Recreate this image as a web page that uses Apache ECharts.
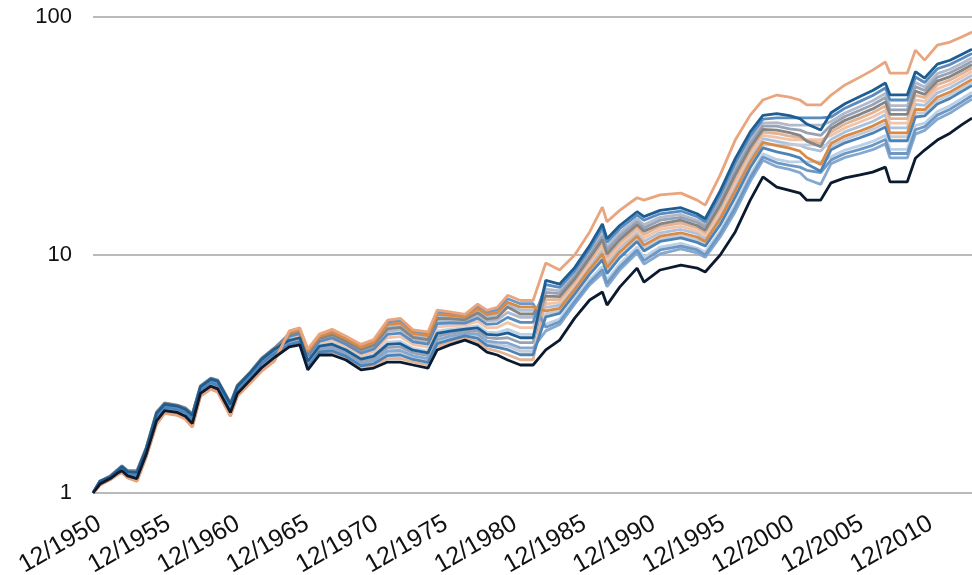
<!DOCTYPE html>
<html>
<head>
<meta charset="utf-8">
<script src="https://cdn.jsdelivr.net/npm/echarts@6/dist/echarts.min.js"></script>
<style>
  html, body { margin: 0; padding: 0; background: #ffffff; }
  #chart { width: 972px; height: 575px; }
</style>
</head>
<body>
<div id="chart"></div>
<script>
// Sample dates, in months after 12/1950
const months = [0, 6, 15, 21, 25, 30, 38, 46, 55, 62, 73, 80, 86, 93, 102, 108, 119, 125, 136, 146, 157,
  170, 179, 186, 196, 207, 219, 232, 243, 255, 266, 277, 290, 298, 309, 322, 333, 341, 350, 359, 370, 381,
  392, 404, 417, 430, 441, 445, 456, 471, 477, 491, 509, 523, 530, 543, 556, 569, 580, 592, 603, 612, 618,
  630, 639, 651, 664, 675, 686, 690, 705, 712, 720, 731, 742, 752, 761];

// Growth of 1 for each strategy
const peach = [1.00, 1.08, 1.14, 1.19, 1.22, 1.16, 1.12, 1.41, 1.94, 2.16, 2.12, 2.04, 1.89, 2.55, 2.73, 2.65, 2.10, 2.55, 2.89, 3.25, 3.58,
  4.80, 4.94, 4.02, 4.65, 4.87, 4.56, 4.21, 4.41, 5.32, 5.42, 4.85, 4.75, 5.87, 5.77, 5.63, 6.22, 5.86, 6.02, 6.77, 6.44, 6.44,
  9.25, 8.65, 10.0, 12.5, 15.9, 13.8, 15.4, 17.4, 17.0, 17.9, 18.2, 17.0, 16.2, 21.7, 30.4, 38.7, 44.8, 47.0, 46.1, 44.8, 42.7,
  42.7, 47.0, 51.8, 55.9, 59.8, 64.7, 58.1, 58.1, 72.6, 65.9, 76.2, 78.5, 82.4, 86.4];
const darkBlue = [1.00, 1.12, 1.17, 1.24, 1.29, 1.23, 1.22, 1.53, 2.16, 2.36, 2.32, 2.25, 2.12, 2.79, 3.01, 2.95, 2.36, 2.81, 3.19, 3.64, 4.02,
  4.38, 4.49, 3.58, 4.14, 4.22, 3.99, 3.65, 3.76, 4.21, 4.24, 3.98, 3.88, 4.69, 4.79, 4.88, 4.94, 4.64, 4.61, 4.71, 4.49, 4.49,
  7.82, 7.55, 8.85, 10.95, 13.5, 11.7, 13.3, 15.2, 14.5, 15.4, 15.8, 14.9, 14.2, 18.6, 25.4, 32.9, 38.6, 39.3, 38.5, 37.4, 35.5,
  33.5, 39.6, 43.2, 46.3, 49.1, 52.8, 47.1, 47.1, 58.9, 55.4, 63.4, 65.8, 69.5, 73.2];
const skyBlue = [1.00, 1.12, 1.17, 1.24, 1.28, 1.22, 1.21, 1.52, 2.14, 2.34, 2.30, 2.23, 2.10, 2.76, 2.98, 2.92, 2.33, 2.78, 3.16, 3.60, 3.97,
  4.55, 4.67, 3.76, 4.34, 4.48, 4.22, 3.87, 4.02, 4.64, 4.70, 4.32, 4.22, 5.15, 5.18, 5.17, 5.43, 5.11, 5.15, 5.47, 5.21, 5.21,
  7.51, 7.31, 8.59, 10.6, 13.0, 11.3, 12.9, 14.7, 14.0, 14.9, 15.3, 14.5, 13.8, 17.9, 24.4, 31.6, 37.2, 37.7, 37.7, 37.7, 37.7,
  37.7, 38.0, 41.4, 44.2, 46.8, 50.3, 44.8, 44.8, 56.0, 53.1, 60.6, 63.1, 66.7, 70.3];
const greyBlue = [1.00, 1.11, 1.17, 1.23, 1.27, 1.21, 1.20, 1.50, 2.11, 2.32, 2.27, 2.20, 2.07, 2.73, 2.94, 2.88, 2.30, 2.75, 3.12, 3.55, 3.91,
  4.61, 4.73, 3.81, 4.41, 4.56, 4.29, 3.95, 4.11, 4.78, 4.85, 4.43, 4.33, 5.30, 5.31, 5.27, 5.60, 5.27, 5.33, 5.74, 5.47, 5.47,
  7.19, 7.06, 8.33, 10.25, 12.4, 10.8, 12.4, 14.2, 13.4, 14.4, 14.8, 14.0, 13.4, 17.2, 23.3, 30.3, 35.8, 36.0, 35.1, 35.1, 35.1,
  35.1, 36.4, 39.5, 42.1, 44.5, 47.7, 42.4, 42.4, 53.1, 50.8, 57.8, 60.3, 63.8, 67.4];
const slate = [1.00, 1.11, 1.16, 1.22, 1.26, 1.20, 1.18, 1.48, 2.07, 2.28, 2.23, 2.16, 2.02, 2.68, 2.89, 2.82, 2.25, 2.70, 3.06, 3.47, 3.82,
  4.33, 4.43, 3.53, 4.08, 4.14, 3.92, 3.58, 3.68, 4.08, 4.11, 3.88, 3.78, 4.55, 4.68, 4.79, 4.80, 4.50, 4.45, 4.49, 4.28, 4.28,
  6.96, 6.88, 8.13, 9.99, 12.0, 10.5, 12.0, 13.8, 13.0, 14.0, 14.4, 13.7, 13.1, 16.7, 22.5, 29.3, 34.8, 34.8, 33.9, 33.5, 32.6,
  31.8, 35.2, 38.2, 40.6, 42.8, 45.9, 40.7, 40.7, 51.0, 49.1, 55.8, 58.3, 61.7, 65.2];
const grey = [1.00, 1.12, 1.18, 1.25, 1.30, 1.24, 1.24, 1.55, 2.19, 2.39, 2.34, 2.28, 2.15, 2.82, 3.04, 2.98, 2.39, 2.84, 3.22, 3.69, 4.07,
  4.64, 4.77, 3.86, 4.46, 4.62, 4.34, 4.00, 4.17, 4.89, 4.96, 4.51, 4.41, 5.41, 5.40, 5.34, 5.72, 5.38, 5.46, 6.05, 5.65, 5.65,
  6.72, 6.69, 7.93, 9.73, 11.6, 10.1, 11.6, 13.4, 12.6, 13.5, 14.0, 13.3, 12.7, 16.2, 21.7, 28.3, 33.7, 33.5, 32.7, 31.8, 30.1,
  28.5, 34.0, 36.8, 39.0, 41.1, 44.0, 39.0, 39.0, 48.8, 47.3, 53.8, 56.2, 59.6, 63.0];
const tan = [1.00, 1.09, 1.15, 1.21, 1.24, 1.18, 1.15, 1.44, 2.00, 2.21, 2.17, 2.09, 1.95, 2.61, 2.80, 2.72, 2.17, 2.61, 2.96, 3.34, 3.68,
  4.16, 4.25, 3.34, 3.86, 3.88, 3.69, 3.36, 3.42, 3.67, 3.68, 3.55, 3.45, 4.12, 4.30, 4.48, 4.33, 4.04, 3.95, 3.81, 3.63, 3.63,
  6.48, 6.51, 7.74, 9.48, 11.3, 9.81, 11.3, 13.1, 12.2, 13.2, 13.6, 13.0, 12.4, 15.7, 21.0, 27.4, 32.8, 32.4, 31.6, 31.2, 30.3,
  29.5, 32.9, 35.5, 37.6, 39.6, 42.3, 37.4, 37.4, 46.9, 45.8, 51.9, 54.3, 57.7, 61.0];
const lightPeach = [1.00, 1.09, 1.14, 1.20, 1.23, 1.17, 1.14, 1.43, 1.98, 2.20, 2.15, 2.08, 1.93, 2.59, 2.78, 2.70, 2.15, 2.59, 2.94, 3.32, 3.65,
  4.49, 4.61, 3.70, 4.27, 4.39, 4.14, 3.79, 3.93, 4.49, 4.54, 4.20, 4.10, 4.99, 5.04, 5.07, 5.26, 4.94, 4.96, 5.20, 4.95, 4.95,
  6.23, 6.33, 7.55, 9.23, 10.9, 9.51, 11.0, 12.7, 11.8, 12.8, 13.2, 12.6, 12.0, 15.2, 20.2, 26.5, 31.8, 31.2, 30.5, 30.5, 30.5,
  30.5, 31.8, 34.2, 36.2, 38.0, 40.5, 35.8, 35.8, 44.9, 44.2, 49.9, 52.3, 55.7, 59.0];
const iceBlue = [1.00, 1.12, 1.18, 1.25, 1.30, 1.24, 1.23, 1.54, 2.18, 2.38, 2.33, 2.27, 2.14, 2.81, 3.03, 2.97, 2.38, 2.83, 3.21, 3.67, 4.05,
  4.68, 4.81, 3.90, 4.51, 4.68, 4.40, 4.05, 4.23, 5.00, 5.07, 4.60, 4.50, 5.52, 5.49, 5.42, 5.84, 5.50, 5.60, 6.19, 5.85, 5.85,
  6.03, 6.15, 7.35, 8.97, 10.5, 9.18, 10.7, 12.4, 11.4, 12.4, 12.8, 12.3, 11.7, 14.7, 19.4, 25.6, 30.8, 30.0, 29.3, 28.9, 28.1,
  27.3, 30.6, 32.9, 34.7, 36.4, 38.8, 34.2, 34.2, 42.9, 42.5, 48.0, 50.4, 53.7, 56.9];
const orange = [1.00, 1.08, 1.14, 1.20, 1.22, 1.16, 1.12, 1.42, 1.96, 2.17, 2.13, 2.05, 1.90, 2.56, 2.74, 2.67, 2.12, 2.56, 2.91, 3.27, 3.60,
  4.72, 4.85, 3.94, 4.55, 4.74, 4.45, 4.10, 4.29, 5.10, 5.18, 4.68, 4.58, 5.63, 5.58, 5.49, 5.96, 5.62, 5.73, 6.33, 6.04, 6.04,
  5.82, 5.96, 7.15, 8.70, 10.1, 8.85, 10.3, 12.0, 11.0, 12.0, 12.4, 11.9, 11.4, 14.2, 18.6, 24.6, 29.7, 28.8, 28.1, 27.3, 25.7,
  24.0, 29.4, 31.6, 33.2, 34.8, 37.0, 32.6, 32.6, 40.9, 40.8, 46.0, 48.4, 51.6, 54.7];
const mist = [1.00, 1.11, 1.17, 1.23, 1.27, 1.21, 1.20, 1.50, 2.10, 2.31, 2.26, 2.19, 2.06, 2.72, 2.93, 2.86, 2.29, 2.74, 3.10, 3.53, 3.89,
  4.25, 4.34, 3.43, 3.97, 4.01, 3.80, 3.46, 3.55, 3.87, 3.89, 3.71, 3.61, 4.33, 4.48, 4.63, 4.56, 4.26, 4.19, 4.14, 3.94, 3.94,
  5.66, 5.82, 7.00, 8.51, 9.83, 8.61, 10.0, 11.7, 10.7, 11.7, 12.1, 11.6, 11.2, 13.8, 18.1, 24.0, 29.0, 29.0, 29.0, 29.0, 29.0,
  29.0, 28.6, 30.6, 32.2, 33.7, 35.8, 31.4, 31.4, 39.5, 39.6, 44.6, 47.0, 50.1, 53.2];
const midBlue = [1.00, 1.11, 1.16, 1.22, 1.26, 1.20, 1.19, 1.49, 2.09, 2.29, 2.25, 2.18, 2.04, 2.70, 2.91, 2.84, 2.27, 2.72, 3.08, 3.50, 3.86,
  4.21, 4.30, 3.39, 3.92, 3.95, 3.75, 3.42, 3.49, 3.78, 3.80, 3.64, 3.54, 4.24, 4.40, 4.57, 4.46, 4.17, 4.09, 4.00, 3.81, 3.81,
  5.50, 5.68, 6.85, 8.31, 9.55, 8.36, 9.74, 11.4, 10.4, 11.4, 11.8, 11.3, 10.9, 13.4, 17.5, 23.3, 28.2, 27.1, 26.4, 25.6, 24.1,
  22.5, 27.7, 29.6, 31.1, 32.5, 34.5, 30.2, 30.2, 38.0, 38.4, 43.1, 45.5, 48.6, 51.6];
const paleBlue = [1.00, 1.10, 1.15, 1.22, 1.25, 1.19, 1.17, 1.47, 2.05, 2.26, 2.21, 2.14, 2.00, 2.66, 2.86, 2.79, 2.22, 2.67, 3.03, 3.43, 3.78,
  4.42, 4.53, 3.62, 4.18, 4.27, 4.04, 3.70, 3.82, 4.30, 4.34, 4.05, 3.95, 4.79, 4.88, 4.94, 5.05, 4.74, 4.72, 4.87, 4.64, 4.64,
  5.13, 5.38, 6.53, 7.88, 8.95, 7.84, 9.17, 10.8, 9.77, 10.8, 11.2, 10.7, 10.3, 12.6, 16.3, 21.8, 26.6, 25.2, 24.6, 24.6, 24.6,
  24.6, 25.9, 27.6, 28.8, 30.0, 31.8, 27.8, 27.8, 35.0, 35.8, 40.1, 42.4, 45.4, 48.3];
const cornflower = [1.00, 1.09, 1.14, 1.20, 1.23, 1.17, 1.13, 1.43, 1.97, 2.19, 2.14, 2.07, 1.92, 2.58, 2.76, 2.69, 2.14, 2.58, 2.93, 3.30, 3.63,
  4.76, 4.90, 3.98, 4.60, 4.81, 4.51, 4.16, 4.35, 5.21, 5.30, 4.77, 4.67, 5.75, 5.68, 5.56, 6.09, 5.74, 5.88, 6.55, 6.24, 6.24,
  4.97, 5.24, 6.37, 7.68, 8.67, 7.60, 8.91, 10.5, 9.47, 10.5, 10.9, 10.5, 10.0, 12.3, 15.8, 21.1, 25.8, 24.4, 23.8, 23.4, 22.7,
  22.2, 25.1, 26.7, 27.8, 28.9, 30.6, 26.7, 26.7, 33.6, 34.6, 38.7, 41.0, 43.9, 46.8];
const steelBlue = [1.00, 1.10, 1.15, 1.21, 1.24, 1.18, 1.16, 1.45, 2.02, 2.23, 2.19, 2.11, 1.97, 2.63, 2.83, 2.75, 2.19, 2.64, 2.99, 3.39, 3.73,
  4.28, 4.37, 3.47, 4.01, 4.06, 3.85, 3.50, 3.60, 3.95, 3.97, 3.77, 3.67, 4.41, 4.56, 4.69, 4.65, 4.35, 4.29, 4.27, 4.07, 4.07,
  4.80, 5.10, 6.21, 7.48, 8.38, 7.36, 8.64, 10.2, 9.16, 10.1, 10.6, 10.2, 9.78, 11.9, 15.2, 20.4, 25.0, 23.5, 22.9, 22.2, 20.8,
  19.8, 24.2, 25.7, 26.7, 27.7, 29.3, 25.6, 25.6, 32.2, 33.4, 37.2, 39.5, 42.4, 45.2];
const navy = [1.00, 1.09, 1.15, 1.21, 1.24, 1.18, 1.15, 1.45, 2.01, 2.22, 2.18, 2.10, 1.96, 2.62, 2.81, 2.74, 2.18, 2.62, 2.98, 3.36, 3.71,
  4.11, 4.19, 3.29, 3.80, 3.80, 3.62, 3.29, 3.35, 3.55, 3.55, 3.45, 3.35, 3.99, 4.19, 4.39, 4.19, 3.91, 3.80, 3.62, 3.45, 3.45,
  3.99, 4.39, 5.43, 6.47, 6.99, 6.16, 7.33, 8.81, 7.70, 8.65, 9.07, 8.81, 8.48, 10.0, 12.5, 17.0, 21.3, 19.3, 18.7, 18.2, 17.0,
  17.0, 20.1, 21.1, 21.7, 22.3, 23.4, 20.3, 20.3, 25.5, 27.6, 30.4, 32.5, 35.2, 37.6];

const yTickValues = [1, 10, 100];

// Drawing order: back to front
const lines = [
  { name: 'paleBlue',   values: paleBlue,   color: '#bcd0e6' },
  { name: 'iceBlue',    values: iceBlue,    color: '#a8c2df' },
  { name: 'greyBlue',   values: greyBlue,   color: '#b1bacb' },
  { name: 'lightPeach', values: lightPeach, color: '#f1c4aa' },
  { name: 'mist',       values: mist,       color: '#c5ccd8' },
  { name: 'steelBlue',  values: steelBlue,  color: '#84a8cf' },
  { name: 'tan',        values: tan,        color: '#e2b497' },
  { name: 'cornflower', values: cornflower, color: '#6d98c6' },
  { name: 'slate',      values: slate,      color: '#98a2b5' },
  { name: 'midBlue',    values: midBlue,    color: '#4d84b8' },
  { name: 'skyBlue',    values: skyBlue,    color: '#5b8cc0' },
  { name: 'grey',       values: grey,       color: '#858585' },
  { name: 'orange',     values: orange,     color: '#d98a47' },
  { name: 'darkBlue',   values: darkBlue,   color: '#1d5d92' },
  { name: 'peach',      values: peach,      color: '#e9a57e' },
  { name: 'navy',       values: navy,       color: '#0c1a30' }
];

const font = 'Liberation Sans, Arial, Helvetica, sans-serif';

const chart = echarts.init(document.getElementById('chart'), null, { renderer: 'canvas' });
chart.setOption({
  animation: false,
  backgroundColor: '#ffffff',
  grid: { left: 93, right: 0, top: 17, bottom: 82, containLabel: false, outerBoundsMode: 'none' },
  xAxis: {
    type: 'value',
    min: 0,
    max: 761,
    interval: 60,
    axisLine: { show: false },
    axisTick: { show: false },
    splitLine: { show: false },
    axisLabel: {
      rotate: 30,
      align: 'right',
      verticalAlign: 'top',
      margin: 18,
      fontSize: 25,
      fontFamily: font,
      color: '#111111',
      showMaxLabel: false,
      formatter: v => (v % 60 === 0 ? '12/' + (1950 + v / 12) : '')
    }
  },
  yAxis: {
    type: 'log',
    logBase: 10,
    min: yTickValues[0],
    max: yTickValues[yTickValues.length - 1],
    axisLine: { show: false },
    axisTick: { show: false },
    splitLine: { show: true, lineStyle: { color: '#a3a3a3', width: 1.5 } },
    axisLabel: {
      margin: 21,
      fontSize: 22,
      fontFamily: font,
      color: '#111111',
      formatter: v => String(Math.round(v))
    }
  },
  series: lines.map(l => ({
    name: l.name,
    type: 'line',
    showSymbol: false,
    symbol: 'none',
    clip: true,
    lineStyle: { color: l.color, width: 2.8 },
    emphasis: { disabled: true },
    data: months.map((m, i) => [m, l.values[i]])
  }))
});
</script>
</body>
</html>
